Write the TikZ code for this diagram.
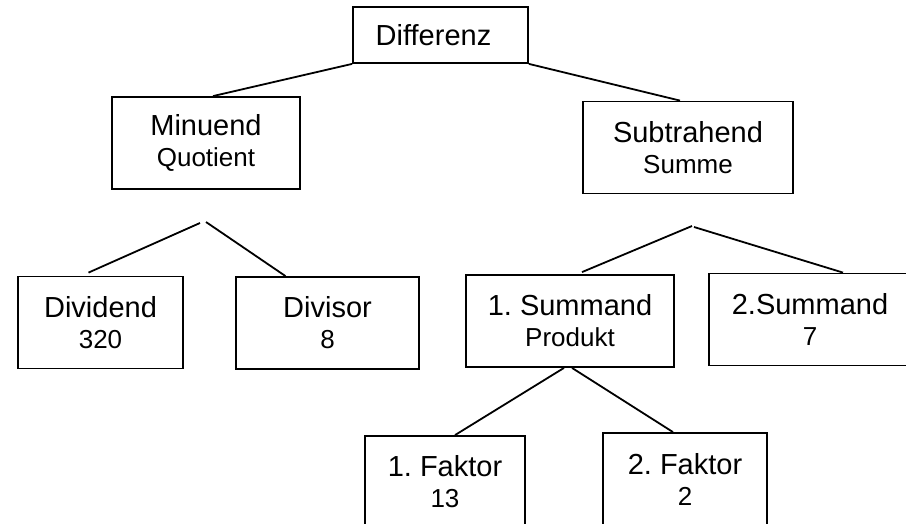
\documentclass[tikz,border=0pt]{standalone}
\usepackage{fontspec}
\setmainfont{Liberation Sans}
\usepackage{tikz}
\usetikzlibrary{positioning}
\frenchspacing
\newcommand{\mainline}{\fontsize{29}{31}\selectfont}
\newcommand{\subline}{\fontsize{26}{31}\selectfont}
\tikzstyle{box} = [rectangle, draw=black, line width=1.8pt, align=center, font=\mainline, inner sep=0pt, minimum height=92]
\tikzstyle{line} = [line width=1.8pt]

\begin{document}
\begin{tikzpicture}[x=1pt, y=-1pt]
    \clip (0,0) rectangle (906,524);
    \fill[white] (0,0) rectangle (906,524);

    % top
    \node[box, minimum width=175, minimum height=56] (diff) at (440.5,35) {Differenz\hspace{14pt}};

    % second row
    \node[box, minimum width=188] (minu) at (206,143) {Minuend\\\subline Quotient};
    \node[box, minimum width=210] (subt) at (688,147.5) {Subtrahend\\\subline Summe};

    % third row
    \node[box, minimum width=165] (divd) at (100.5,322.5) {Dividend\\\subline 320};
    \node[box, minimum width=183] (divs) at (327.5,323) {Divisor\\\subline 8};
    \node[box, minimum width=208] (sum1) at (570,321) {1. Summand\\\subline Produkt};
    \node[box, minimum width=202] (sum2) at (810,319.5) {2.Summand\\\subline 7};

    % bottom row
    \node[box, minimum width=160] (fak1) at (445,482) {1. Faktor\\\subline 13};
    \node[box, minimum width=164] (fak2) at (685,479) {2. Faktor\\\subline 2};

    % loose ends below the boxes
    \coordinate (minuL) at (200,223);
    \coordinate (minuR) at (206,222);
    \coordinate (subtL) at (692,226);
    \coordinate (subtR) at (694,227);

    % lines
    \draw[line] (diff.south west) -- ([xshift=7]minu.north);
    \draw[line] (diff.south east) -- ([xshift=-8]subt.north);
    \draw[line] (minuL) -- ([xshift=-12, yshift=3]divd.north);
    \draw[line] (minuR) -- ([xshift=-42]divs.north);
    \draw[line] (subtL) -- ([xshift=12, yshift=2]sum1.north);
    \draw[line] (subtR) -- ([xshift=33]sum2.north);
    \draw[line] ([xshift=-6]sum1.south) -- ([xshift=10]fak1.north);
    \draw[line] ([xshift=2]sum1.south) -- ([xshift=-12]fak2.north);
\end{tikzpicture}
\end{document}
